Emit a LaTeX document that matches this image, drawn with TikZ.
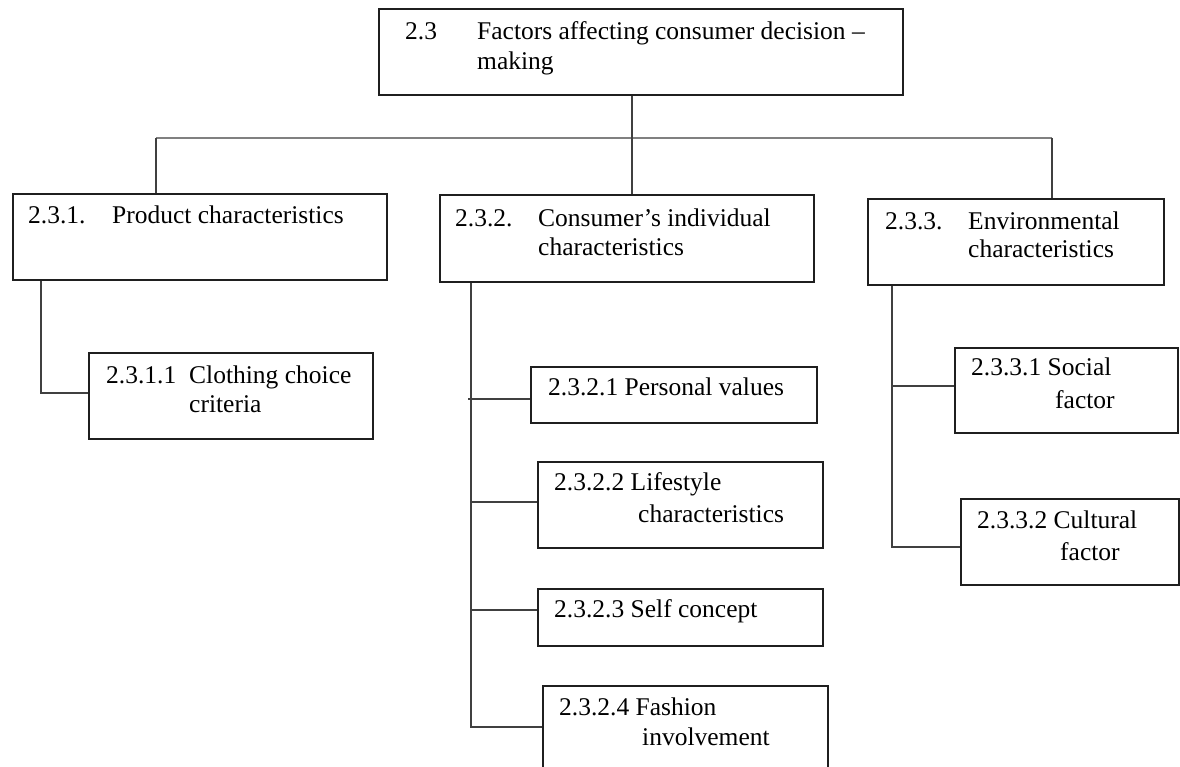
\documentclass[tikz,border=0pt]{standalone}
\usepackage{fontspec}
\setmainfont{Liberation Serif}
\begin{document}
\begin{tikzpicture}[x=1pt,y=-1pt,
  box/.style={draw=black!88,line width=1.6pt,rectangle,anchor=north west,inner sep=0pt},
  conn/.style={draw=black!75,line width=1.5pt},
  bus/.style={draw=black!50,line width=2.6pt},
  txt/.style={anchor=base west,inner sep=0pt,font=\fontsize{25.5}{30}\selectfont}]
\useasboundingbox (0,0) rectangle (1180,767);
\clip (0,0) rectangle (1180,767);
% boxes
\node[box,minimum width=524pt,minimum height=86pt] (top) at (378,8) {};
\node[box,minimum width=374pt,minimum height=86pt] (b1) at (12,193) {};
\node[box,minimum width=374pt,minimum height=87pt] (b2) at (439,194) {};
\node[box,minimum width=296pt,minimum height=86pt] (b3) at (867,198) {};
\node[box,minimum width=284pt,minimum height=86pt] (b11) at (88,352) {};
\node[box,minimum width=286pt,minimum height=56pt] (b21) at (530,366) {};
\node[box,minimum width=285pt,minimum height=86pt] (b22) at (537,461) {};
\node[box,minimum width=285pt,minimum height=57pt] (b23) at (537,588) {};
\node[box,minimum width=285pt,minimum height=90pt] (b24) at (542,685) {};
\node[box,minimum width=223pt,minimum height=85pt] (b31) at (954,347) {};
\node[box,minimum width=218pt,minimum height=86pt] (b32) at (960,498) {};
% texts
\node[txt] (t0a) at (405,40) {2.3};
\node[txt] (t0b) at (477,40) {Factors affecting consumer decision –};
\node[txt] (t0c) at (477,70) {making};
\node[txt] (t1a) at (28,224) {2.3.1.};
\node[txt] (t1b) at (112,224) {Product characteristics};
\node[txt] (t11a) at (106,383) {2.3.1.1};
\node[txt] (t11b) at (189,383) {Clothing choice};
\node[txt] (t11c) at (189,412) {criteria};
\node[txt] (t2a) at (455,227) {2.3.2.};
\node[txt] (t2b) at (538,227) {Consumer’s individual};
\node[txt] (t2c) at (538,255) {characteristics};
\node[txt] (t21) at (548,395) {2.3.2.1 Personal values};
\node[txt] (t22a) at (554,490) {2.3.2.2 Lifestyle};
\node[txt] (t22b) at (638,522) {characteristics};
\node[txt] (t23) at (554,617) {2.3.2.3 Self concept};
\node[txt] (t24a) at (559,715) {2.3.2.4 Fashion};
\node[txt] (t24b) at (642,745) {involvement};
\node[txt] (t3a) at (885,230) {2.3.3.};
\node[txt] (t3b) at (968,230) {Environmental};
\node[txt] (t3c) at (968,258) {characteristics};
\node[txt] (t31a) at (971,375) {2.3.3.1 Social};
\node[txt] (t31b) at (1055,408) {factor};
\node[txt] (t32a) at (977,528) {2.3.3.2 Cultural};
\node[txt] (t32b) at (1060,560) {factor};
% connector coordinates
\coordinate (busL) at (156,138);
\coordinate (busC) at (632,138);
\coordinate (busR) at (1052,138);
\coordinate (k1) at (41,393);
\coordinate (k2) at (471,727);
\coordinate (k3) at (892,547);
% connectors
\draw[bus] (busL) -- (busR);
\draw[conn] (top.south -| busC) -- (b2.north -| busC);
\draw[conn] (busL) -- (b1.north -| busL);
\draw[conn] (busR) -- (b3.north -| busR);
\draw[conn] (b1.south -| k1) -- (k1) -- (k1 -| b11.west);
\draw[conn] (b2.south -| k2) -- (k2) -- (k2 -| b24.west);
\draw[conn] (468,399) -- (b21.west |- 0,399);
\draw[conn] (k2 |- 0,502) -- (b22.west |- 0,502);
\draw[conn] (k2 |- 0,610) -- (b23.west |- 0,610);
\draw[conn] (b3.south -| k3) -- (k3) -- (k3 -| b32.west);
\draw[conn] (k3 |- 0,386) -- (b31.west |- 0,386);
\end{tikzpicture}
\end{document}
